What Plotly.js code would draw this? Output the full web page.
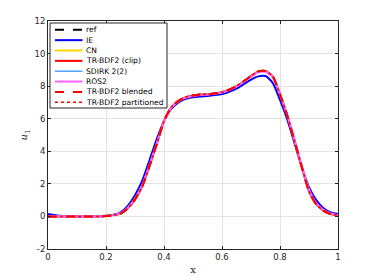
<!DOCTYPE html>
<html><head><meta charset="utf-8">
<script src="https://cdn.plot.ly/plotly-3.0.1.min.js"></script>
<style>html,body{margin:0;padding:0;background:#fff}#plot{width:374px;height:280px}</style>
</head><body><div id="plot"></div>
<script>
const xs = [0,0.025,0.05,0.075,0.1,0.125,0.15,0.175,0.2,0.225,0.25,0.275,0.3,0.325,0.35,0.375,0.4,0.425,0.45,0.475,0.5,0.525,0.55,0.575,0.6,0.625,0.65,0.675,0.7,0.725,0.75,0.775,0.8,0.825,0.85,0.875,0.9,0.925,0.95,0.975,1.0];
const uRef = [0,0,0,0,0,0,0,0,0.02,0.08,0.17,0.5,1.05,1.85,3.1,4.45,5.85,6.7,7.1,7.32,7.42,7.48,7.5,7.55,7.63,7.78,8.0,8.3,8.62,8.9,8.93,8.6,7.5,6.2,4.65,3.05,1.55,0.75,0.36,0.15,0.06];
const uIE = [0.15,0.08,0.03,0.01,0,0,0,0.01,0.04,0.1,0.25,0.65,1.3,2.2,3.45,4.75,5.85,6.6,7.0,7.22,7.32,7.37,7.4,7.45,7.52,7.65,7.85,8.12,8.4,8.6,8.62,8.2,7.15,5.95,4.5,3.05,1.8,1.0,0.5,0.25,0.15];
const uCN = [0,0,0,0,0,0,0,0,0.02,0.08,0.17,0.5,1.05,1.85,3.1,4.45,5.85,6.7,7.1,7.32,7.42,7.48,7.5,7.55,7.63,7.78,8.0,8.3,8.62,8.9,8.93,8.6,7.5,6.2,4.65,3.05,1.55,0.75,0.36,0.15,0.06];
const uTRclip = [0,0,0,0,0,0,0,0,0.02,0.08,0.17,0.5,1.05,1.85,3.1,4.45,5.85,6.7,7.1,7.32,7.42,7.48,7.5,7.55,7.63,7.78,8.0,8.3,8.62,8.9,8.93,8.6,7.5,6.2,4.65,3.05,1.55,0.75,0.36,0.15,0.06];
const uSDIRK = [0,0,0,0,0,0,0,0,0.02,0.08,0.18,0.51,1.07,1.88,3.12,4.46,5.84,6.68,7.09,7.31,7.41,7.47,7.5,7.55,7.63,7.78,7.99,8.29,8.6,8.88,8.91,8.58,7.5,6.22,4.68,3.08,1.58,0.77,0.37,0.16,0.06];
const uROS2 = [0.02,0.01,0,0,0,0,0,0,0.02,0.09,0.2,0.54,1.1,1.92,3.16,4.48,5.82,6.66,7.07,7.3,7.4,7.46,7.49,7.54,7.62,7.76,7.97,8.27,8.58,8.85,8.88,8.55,7.5,6.25,4.72,3.14,1.66,0.82,0.41,0.18,0.07];
const uBlend = [0,0,0,0,0,0,0,0,0.02,0.08,0.17,0.5,1.05,1.85,3.1,4.45,5.85,6.7,7.1,7.32,7.42,7.48,7.5,7.55,7.63,7.78,8.0,8.3,8.62,8.9,8.93,8.6,7.5,6.2,4.65,3.05,1.55,0.75,0.36,0.15,0.06];
const uPart = [0,0,0,0,0,0,0,0,0.02,0.08,0.17,0.5,1.05,1.85,3.1,4.45,5.85,6.7,7.1,7.32,7.42,7.48,7.5,7.55,7.63,7.78,8.0,8.3,8.62,8.9,8.93,8.6,7.5,6.2,4.65,3.05,1.55,0.75,0.36,0.15,0.06];
const names = ['ref','IE','CN','TR-BDF2 (clip)','SDIRK 2(2)','ROS2','TR-BDF2 blended','TR-BDF2 partitioned'];
const xTicks = [0,0.2,0.4,0.6,0.8,1];
const yTicks = [-2,0,2,4,6,8,10,12];

const series = [uRef,uIE,uCN,uTRclip,uSDIRK,uROS2,uBlend,uPart];
const styles = [
  {color:'#000000',dash:'dash',width:2},
  {color:'#0000ff',dash:'solid',width:2},
  {color:'#ffd700',dash:'solid',width:2},
  {color:'#ff0000',dash:'solid',width:2},
  {color:'#4d9fff',dash:'solid',width:1.5},
  {color:'#ff66ff',dash:'solid',width:2},
  {color:'#ff0000',dash:'dash',width:2},
  {color:'#ff0000',dash:'dot',width:1.5}
];
const traces = series.map((ys,i)=>({x:xs,y:ys,type:'scatter',mode:'lines',name:names[i],showlegend:false,line:Object.assign({shape:'spline',smoothing:0.6},styles[i])}));

// Compact legend drawn with shapes and annotations (paper coords)
const L=48,R=338,T=21,B=249;
const px=v=>(v-L)/(R-L), py=v=>(B-v)/(B-T);
const shapes=[{type:'rect',xref:'paper',yref:'paper',x0:px(50),x1:px(167),y0:py(108),y1:py(23),fillcolor:'#fff',line:{color:'#262626',width:1},layer:'above'}];
const annotations=[];
names.forEach((n,i)=>{
  const yy=29.8+i*10.35;
  const st=styles[i];
  shapes.push({type:'line',xref:'paper',yref:'paper',x0:px(55),x1:px(82.5),y0:py(yy),y1:py(yy),line:{color:st.color,width:st.width,dash:st.dash},layer:'above'});
  annotations.push({xref:'paper',yref:'paper',x:px(84),y:py(yy),xanchor:'left',yanchor:'middle',showarrow:false,text:n,font:{family:'DejaVu Sans',size:7.6,color:'#000'}});
});

const axisCommon = {showline:true,mirror:'ticks',linecolor:'#262626',linewidth:1,ticks:'inside',ticklen:3,tickcolor:'#262626',showgrid:true,gridcolor:'#e3e3e3',zeroline:false,tickfont:{family:'DejaVu Sans',size:8.5,color:'#262626'}};
const layout = {
  width:374,height:280,
  margin:{l:48,r:36,t:21,b:31},
  paper_bgcolor:'#fff',plot_bgcolor:'#fff',
  showlegend:false,
  shapes:shapes,annotations:annotations,
  xaxis:Object.assign({},axisCommon,{range:[0,1],tickvals:xTicks,ticktext:xTicks.map(String),title:{text:'x',font:{family:'DejaVu Serif',size:10,color:'#262626'},standoff:4}}),
  yaxis:Object.assign({},axisCommon,{range:[-2,12],tickvals:yTicks,ticktext:yTicks.map(String),title:{text:'<i>u</i><sub>1</sub>',font:{family:'DejaVu Serif',size:10,color:'#262626'},standoff:4}})
};
Plotly.newPlot('plot',traces,layout,{displayModeBar:false,staticPlot:true});
</script></body></html>
